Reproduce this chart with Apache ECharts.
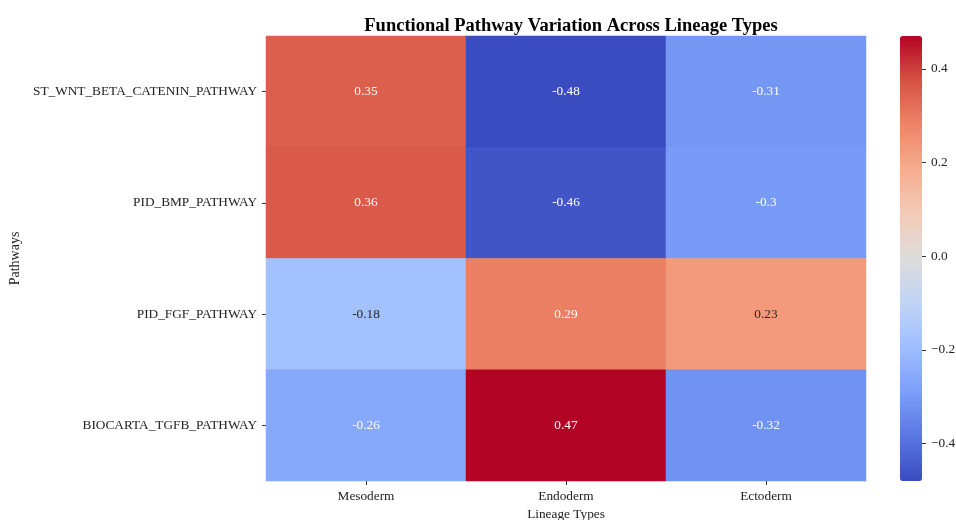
<!DOCTYPE html>
<html>
<head>
<meta charset="utf-8">
<script src="https://cdn.jsdelivr.net/npm/echarts@6/dist/echarts.min.js"></script>
<style>
  html, body { margin: 0; padding: 0; background: #fff; }
  #chart { width: 956px; height: 520px; }
</style>
</head>
<body>
<div id="chart"></div>
<script>
// Lineage types (columns) and pathways (rows)
const lineages = ['Mesoderm', 'Endoderm', 'Ectoderm'];
const pathways = ['ST_WNT_BETA_CATENIN_PATHWAY', 'PID_BMP_PATHWAY', 'PID_FGF_PATHWAY', 'BIOCARTA_TGFB_PATHWAY'];

// Variation scores per pathway, one value per lineage
const wntScores = [0.35, -0.48, -0.31];
const bmpScores = [0.36, -0.46, -0.30];
const fgfScores = [-0.18, 0.29, 0.23];
const tgfbScores = [-0.26, 0.47, -0.32];

// Colour bar tick values
const barTicks = [-0.4, -0.2, 0, 0.2, 0.4];

const rows = [wntScores, bmpScores, fgfScores, tgfbScores];

// coolwarm colour stops
const coolwarm = ['#3b4cc0', '#5977e3', '#7b9ff9', '#9ebeff', '#c0d4f5', '#dddcdc',
                  '#f2cbb7', '#f7ac8e', '#ee8468', '#d65244', '#b40426'];

let vmin = Infinity, vmax = -Infinity;
rows.forEach(r => r.forEach(v => { vmin = Math.min(vmin, v); vmax = Math.max(vmax, v); }));

function hexToRgb(h) {
  return [parseInt(h.slice(1, 3), 16), parseInt(h.slice(3, 5), 16), parseInt(h.slice(5, 7), 16)];
}
function colorAt(v) {
  const t = Math.max(0, Math.min(1, (v - vmin) / (vmax - vmin)));
  const p = t * (coolwarm.length - 1);
  const i = Math.min(Math.floor(p), coolwarm.length - 2);
  const f = p - i;
  const a = hexToRgb(coolwarm[i]), b = hexToRgb(coolwarm[i + 1]);
  return a.map((c, k) => c + (b[k] - c) * f);
}
function luminance(rgb) {
  const lin = rgb.map(c => {
    c /= 255;
    return c <= 0.03928 ? c / 12.92 : Math.pow((c + 0.055) / 1.055, 2.4);
  });
  return 0.2126 * lin[0] + 0.7152 * lin[1] + 0.0722 * lin[2];
}

const cells = [];
rows.forEach((r, yi) => r.forEach((v, xi) => {
  const dark = luminance(colorAt(v)) > 0.408;
  cells.push({ value: [xi, yi, v], label: { color: dark ? '#262626' : '#ffffff' } });
}));

const serif = '"Liberation Serif", "DejaVu Serif", serif';
const fs = 13.3;
const fmt = v => (v < 0 ? '\u2212' : '') + Math.abs(v).toFixed(1);

const chart = echarts.init(document.getElementById('chart'), null, { renderer: 'canvas' });
chart.setOption({
  animation: false,
  backgroundColor: '#ffffff',
  title: {
    text: 'Functional Pathway Variation Across Lineage Types',
    left: 566,
    textAlign: 'center',
    top: 12,
    textStyle: { fontFamily: serif, fontSize: 18.5, fontWeight: 'bold', color: '#000' }
  },
  grid: [
    { left: 266, right: 90, top: 36, bottom: 39, outerBoundsMode: 'none', containLabel: false },
    // thin strip along the colour bar's right edge, carrying its scale
    { left: 922, width: 1, top: 36, height: 445, outerBoundsMode: 'none', containLabel: false }
  ],
  xAxis: [
    {
      type: 'category', data: lineages, gridIndex: 0,
      axisLine: { show: false },
      axisTick: { show: true, alignWithLabel: true, length: 4, lineStyle: { color: '#333' } },
      axisLabel: { fontFamily: serif, fontSize: fs, color: '#222', margin: 9 },
      splitArea: { show: false },
      name: 'Lineage Types', nameLocation: 'middle', nameGap: 26,
      nameTextStyle: { fontFamily: serif, fontSize: fs, color: '#222' }
    },
    { type: 'value', gridIndex: 1, show: false, min: 0, max: 1 }
  ],
  yAxis: [
    {
      type: 'category', data: pathways, inverse: true, gridIndex: 0,
      axisLine: { show: false },
      axisTick: { show: true, alignWithLabel: true, length: 4, lineStyle: { color: '#333' } },
      axisLabel: { fontFamily: serif, fontSize: fs, color: '#222', margin: 9 },
      name: 'Pathways', nameLocation: 'middle', nameGap: 236, nameRotate: 90,
      nameTextStyle: { fontFamily: serif, fontSize: 14, color: '#222' }
    },
    {
      type: 'value', gridIndex: 1, position: 'right',
      min: vmin, max: vmax, z: 10,
      axisLine: { show: false },
      splitLine: { show: false },
      axisTick: { show: true, inside: false, length: 4, lineStyle: { color: '#333', width: 1 },
                  customValues: barTicks },
      axisLabel: { fontFamily: serif, fontSize: fs, color: '#222', margin: 8,
                   customValues: barTicks, formatter: fmt }
    }
  ],
  visualMap: {
    type: 'continuous',
    seriesIndex: 0,
    min: vmin, max: vmax,
    calculable: false,
    hoverLink: false,
    realtime: false,
    orient: 'vertical',
    left: 885, top: 21,
    itemWidth: 22, itemHeight: 445,
    text: null,
    showLabel: false,
    z: 2,
    inRange: { color: coolwarm }
  },
  series: [
    {
      type: 'heatmap',
      xAxisIndex: 0, yAxisIndex: 0,
      data: cells,
      label: {
        show: true, fontFamily: serif, fontSize: fs,
        formatter: p => String(p.value[2])
      },
      itemStyle: { borderWidth: 0 },
      emphasis: { disabled: true }
    },
    { type: 'scatter', xAxisIndex: 1, yAxisIndex: 1, data: [], silent: true }
  ]
});
</script>
</body>
</html>
